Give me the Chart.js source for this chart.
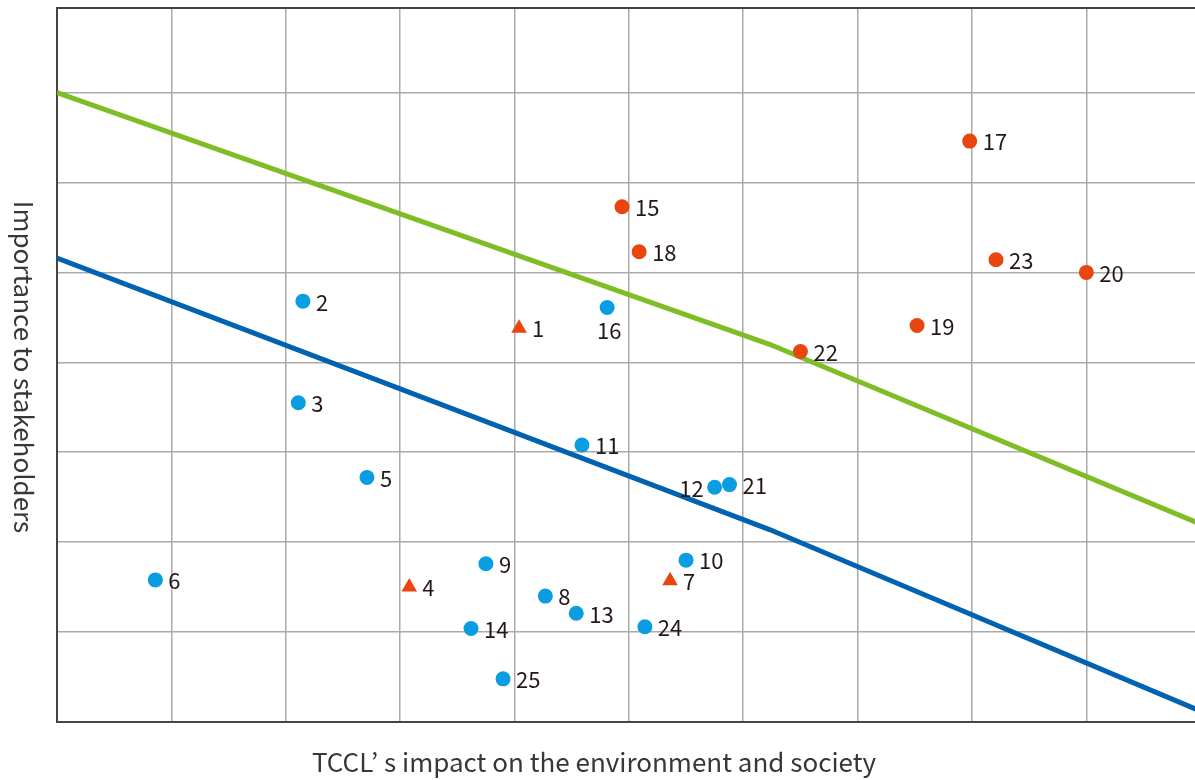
<!DOCTYPE html>
<html>
<head>
<meta charset="utf-8">
<script src="https://cdn.jsdelivr.net/npm/chart.js@4/dist/chart.umd.min.js"></script>
<style>
    html, body { margin: 0; padding: 0; background: #fff; overflow: hidden; }
    #wrap { position: relative; width: 1195px; height: 780px; }
</style>
</head>
<body>
<div id="wrap"><canvas id="matrix" width="1195" height="780"></canvas></div>
<script>
// Issue numbers and their position in the materiality matrix
const issueIds    = [1, 2, 3, 4, 5, 6, 7, 8, 9, 10, 11, 12, 13, 14, 15, 16, 17, 18, 19, 20, 21, 22, 23, 24, 25];
const impactX     = [4.04, 2.15, 2.11, 3.08, 2.71, 0.86, 5.36, 4.27, 3.75, 5.50, 4.59, 5.75, 4.54, 3.62, 4.94, 4.81, 7.98, 5.09, 7.52, 9.00, 5.88, 6.50, 8.21, 5.14, 3.90];
const importanceY = [4.38, 4.68, 3.55, 1.50, 2.72, 1.58, 1.57, 1.40, 1.76, 1.80, 3.08, 2.61, 1.21, 1.04, 5.73, 4.61, 6.46, 5.23, 4.41, 5.00, 2.64, 4.12, 5.14, 1.06, 0.48];
// 'high' = orange dot, 'low' = blue dot, 'new' = orange triangle
const issueGroup  = ['new', 'low', 'low', 'new', 'low', 'low', 'new', 'low', 'low', 'low', 'low', 'low', 'low', 'low', 'high', 'low', 'high', 'high', 'high', 'high', 'low', 'high', 'high', 'low', 'low'];

// Threshold lines
const greenLineX = [0, 6.23, 10];
const greenLineY = [7.0, 4.2, 2.2];
const blueLineX  = [0, 6.23, 10];
const blueLineY  = [5.16, 2.14, 0.12];

const xTitle = 'TCCL’ s impact on the environment and society';
const yTitle = 'Importance to stakeholders';

const FONT = '"Noto Sans CJK KR", "Noto Sans", sans-serif';
const ORANGE = '#E8460E';
const SKY = '#0A9DE2';

// labels that don't sit to the right of their point
const labelSide = { 12: 'left', 16: 'below' };

function pointsFor(group) {
    const pts = [];
    issueIds.forEach((id, i) => {
        if (issueGroup[i] === group) pts.push({ x: impactX[i], y: importanceY[i], id: id });
    });
    return pts;
}

function linePoints(xs, ys) {
    return xs.map((x, i) => ({ x: x, y: ys[i] }));
}

// Draw issue numbers next to each point
const issueLabels = {
    id: 'issueLabels',
    afterDatasetsDraw(chart) {
        const ctx = chart.ctx;
        const xs = chart.scales.x, ys = chart.scales.y;
        ctx.save();
        ctx.font = '22px ' + FONT;
        ctx.fillStyle = '#231815';
        ctx.textBaseline = 'middle';
        issueIds.forEach((id, i) => {
            const px = xs.getPixelForValue(impactX[i]);
            const py = ys.getPixelForValue(importanceY[i]);
            const side = labelSide[id] || 'right';
            if (side === 'left') {
                ctx.textAlign = 'right';
                ctx.fillText(String(id), px - 11, py + 1);
            } else if (side === 'below') {
                ctx.textAlign = 'center';
                ctx.fillText(String(id), px + 2, py + 23);
            } else {
                ctx.textAlign = 'left';
                ctx.fillText(String(id), px + 13, py + 1);
            }
        });
        ctx.restore();
    }
};

// Frame top edge and axis titles
const frameAndTitles = {
    id: 'frameAndTitles',
    afterDraw(chart) {
        const ctx = chart.ctx;
        const a = chart.chartArea;
        ctx.save();
        ctx.strokeStyle = '#444';
        ctx.lineWidth = 2;
        ctx.beginPath();
        ctx.moveTo(a.left, a.top);
        ctx.lineTo(a.right, a.top);
        ctx.stroke();

        ctx.fillStyle = '#3a3635';
        ctx.font = '26px ' + FONT;
        ctx.textAlign = 'center';
        ctx.textBaseline = 'middle';
        ctx.fillText(xTitle, 594, 762);

        ctx.translate(24, 367);
        ctx.rotate(Math.PI / 2);
        ctx.fillText(yTitle, 0, 0);
        ctx.restore();
    }
};

const gridColor = (c) => Number.isInteger(c.tick.value) ? '#aaaaaa' : 'rgba(0,0,0,0)';

new Chart(document.getElementById('matrix'), {
    type: 'scatter',
    data: {
        datasets: [
            { label: 'high', data: pointsFor('high'), backgroundColor: ORANGE, borderWidth: 0, pointRadius: 7.5, pointHoverRadius: 7.5 },
            { label: 'low', data: pointsFor('low'), backgroundColor: SKY, borderWidth: 0, pointRadius: 7.5, pointHoverRadius: 7.5 },
            { label: 'new', data: pointsFor('new'), backgroundColor: ORANGE, borderWidth: 0, pointStyle: 'triangle', pointRadius: 9, pointHoverRadius: 9 },
            { label: 'upper', data: linePoints(greenLineX, greenLineY), showLine: true, borderColor: '#7EBD26', borderWidth: 5, pointRadius: 0, fill: false },
            { label: 'lower', data: linePoints(blueLineX, blueLineY), showLine: true, borderColor: '#0062B1', borderWidth: 5, pointRadius: 0, fill: false }
        ]
    },
    options: {
        responsive: false,
        animation: false,
        layout: { autoPadding: false, padding: { left: 57, top: 8, right: 0, bottom: 58 } },
        plugins: { legend: { display: false }, tooltip: { enabled: false } },
        scales: {
            x: {
                type: 'linear', min: 0, max: 9.95,
                ticks: { display: false, stepSize: 1 },
                grid: { color: gridColor, lineWidth: 1.5, drawTicks: false },
                border: { display: true, color: '#444', width: 2 }
            },
            y: {
                type: 'linear', min: 0, max: 7.94,
                ticks: { display: false, stepSize: 1 },
                grid: { color: gridColor, lineWidth: 1.5, drawTicks: false },
                border: { display: true, color: '#444', width: 2 }
            }
        }
    },
    plugins: [issueLabels, frameAndTitles]
});
</script>
</body>
</html>
